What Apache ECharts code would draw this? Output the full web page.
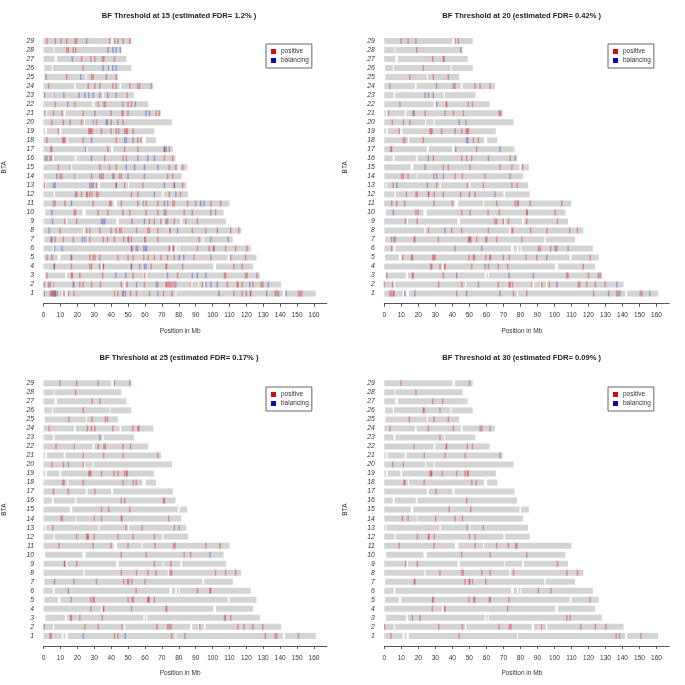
<!DOCTYPE html>
<html><head><meta charset="utf-8">
<style>html,body{margin:0;padding:0;background:#fff}#c{width:685px;height:685px;filter:blur(0.4px)}</style>
<script src="https://cdn.jsdelivr.net/npm/echarts@6/dist/echarts.min.js"></script>
</head><body><div id="c"></div>
<script>
const categories = ['1','2','3','4','5','6','7','8','9','10','11','12','13','14','15','16','17','18','19','20','21','22','23','24','25','26','27','28','29'];
const tickValues = [0,10,20,30,40,50,60,70,80,90,100,110,120,130,140,150,160];
const titles = ['BF Threshold at 15 (estimated FDR= 1.2% )','BF Threshold at 20 (estimated FDR= 0.42% )','BF Threshold at 25 (estimated FDR= 0.17% )','BF Threshold at 30 (estimated FDR= 0.09% )'];
// chromosome lengths (Mb), row 1 to row 29
const chromEnd = [161,140.6,128,124,126,122.6,112,117,108,106.5,110,85.5,84.5,81.5,85,78,76.5,66.5,65.5,76,69.5,62,53.5,65,44,52,49,46,52];
const chromStart = [0,0,1,0,0.5,0,0.5,0,0,1,0,0,0,0,0,0,0,0,0,0,0,0,0,0,0.7,0.5,0,0,0];
// unmapped gaps (Mb)
const chromGaps = [
[[10.8,11.8],[13,14.4],[78,78.6],[141.6,142.8]],
[[5.6,6.2],[47.5,48.2],[86.7,88],[91.5,92],[95,95.8]],
[[12.8,13.8],[59,59.9],[60.8,61.4]],
[[34,35],[100.5,102]],
[[8.5,10],[109,110]],
[[5.5,6.5],[74.5,76],[78,78.8],[80,80.6]],
[[94,94.8]],
[[23.5,24.2],[73.5,74.3]],
[[13.2,14],[43,44.5],[70.5,71],[81,82]],
[[23,25]],
[[41.5,43.5],[58,58.6]],
[[6,6.8],[70,71]],
[[0.8,1.4],[32.5,33.2],[50,50.6]],
[[19,19.5]],
[[15.5,17],[79.5,80.5]],
[[5,6],[18.5,19.5]],
[[25,26],[40,41.2]],
[[58.5,60.5],[14,14.6]],
[[1,2],[9.5,10.5]],
[[24,24.6],[29,29.6]],
[[1,2],[12,13]],
[[29,30]],
[[5.5,6.5],[35,35.6]],
[[18,19],[45,46]],
[[25,25.6]],
[[5,5.6],[39,39.6]],
[[6.5,8]],
[[6,6.5]],
[[40,41.5]]
];
// selected positions (Mb) per row, row 1 to row 29; repeats are overlapping windows
const positive15 = [
[0.5,4,5,6,7,7,12,14.7,18,42,44,47,51.5,55,62.7,71,76,112.6,117.5,122.4,122.6,137,138,150.8,151.8,152.8],
[0.4,3,6,17.6,21.5,23.5,28.4,33.7,46,49.5,59.7,66.6,72.5,73,74,75,76,77.4,78.3,87,94,108.7,114.6,115,117.5,123.8,128.7,129.7],
[2,16.6,17,21.5,35,53,59.7,79.3,107,107.7,119.5,120.4,126.3],
[6.5,16.6,27.4,28.4,35.3,35.5,52,56.8,63.7,72.5,72.8,82.3,112.6,117.5],
[2,5,16.3,16.7,27.4,29.4,30.4,33.3,44,50,53,59.3,62,65.6,69.5,73.4,77.4,89,99,110.7,119.5],
[52,55.8,74.4,76.8,76.9,91,98,100.4,107.7,113.6,120.4],
[5,6.9,11.8,17.6,27.4,35.3,37.8,42,47.4,50,50.3,52,60,60.2,67.6,92],
[9.8,25.5,27.4,33.3,40,43,45,46,55,61.7,62.7,67.6,74.4,75,88,96,102.8,110.7,115.5],
[12.7,19.6,62.7,65.6,69.5,73.4,77.4,84.2,91],
[18.2,19,32.3,38,47,51,60.7,67.6,72.5,83.2,88,101.8],
[5.9,6.9,12.7,29.4,39.2,40,46,55.8,60.7,67.6,73.4,76.4,77.4,85.2,90,99,104.8],
[19,19.6,22.5,25.5,26,27.4,28.8,31.3,32.3,52,55.8,74.4,81],
[0.6,28.4,31.3,43,48,58.8,77.4,82.3],
[9.8,10.8,18.6,28.4,34.3,35.3,41,45,46,73.4,76.4],
[8.8,33.3,39,43,74.4,78.3,82.3],
[1,3.9,36.2,47,49,71.5,76.4],
[4.9,4.3,38,48,55.8,71.5,74.4],
[2,11.4,12,12.7,23.5,43,55.8,57.7],
[8.8,26.8,27.4,28,28.8,34.3,40,43,44.4,48,49,49.6,53],
[4.9,11.8,15.7,22.5,31.3,40,47],
[1,5.9,10.8,23.5,40,46.4,47,50,66.6,68.5],
[6.9,18.6,32.3,35.8,36.6,47,50,52],
[0.6,49.5],
[3,26.4,30.4,33.3,41,43,51,55.8,56.8,63.7],
[13.7,28.4,29.4,37.2,43],
[23.5],
[22.5,28,30.4,34.9,35.7,42],
[13.7,14.7,17.6,19],
[2,7,10.4,13.7,18.6,19.6,39.2,42,44,47,51]
];
const balancing15 = [
[5,6.3,8,47,48.4,67.6,103.8,120,132,139,143.5],
[4,18,55,67.6,96,99,102.8,122,133],
[42.7,48.6,73.4,88,91,96],
[6.3,33.3,52,59.7,60.7],
[80.3,83],
[6.5,11,52.3,54.8,59.3,60.3,61,74.8,101],
[4.5,23,24.5,99,109.3],
[3.3,79.3],
[5.3,34.3,35.3,36.2,52.3,59.7,72.5],
[4.9,71.5,99],
[16.6,58.8,71.5,93,95],
[65.6,78.3],
[5.9,6.9,27.4,29.4,43,71.5,77.4],
[7.8,33.3,41.7,50,59.7],
[15.7,49,53.9,59.7,67.6],
[2,4.9,28.4,55.8,61.7,65.6],
[24.9,71.5,72.5],
[28.4,48,49,53],
[],
[29.4,37.2,37.8,44],
[30.4,60.7,62.7],
[14.3,54.4],
[6.3,12,21,24.5,26.8,29.4,33.3,38,43],
[],
[1.4,22],
[35.3,38.6,41,43],
[17],
[38.2,41,43,45.4],
[25.5]
];
const positive20 = [
[3.3,4.3,5.3,5.8,42.5,75.9,83.7,123,136.7,137.5,150.4,151.4],
[0,4.9,32,45.5,67,73.3,74,75.3,86.7,92.5,97,114,115,119,124,129.8],
[1.4,16.5,17,34.7,107.3,108,120,125.9,126.9],
[27.3,27.9,32.7,35.3,35.7,51.4,61.2,67,72.5,117],
[10.8,16,16.6,28.4,29.2,29.8,49.8,52.4,53,59.6,62,62.4,70,73.5,83.3,89.6,121],
[41.6,90.6,91.6,97.8,101.4,108],
[6.3,5.9,18,17.6,31.8,49.4,50,50.4,50.8,54.3,59.6,60.2,66,80.8],
[26,39.6,45.5,61.2,74.9,75.5,86,95.5,109,113.5],
[12.5,19.4,65,66,70,73,83.7,101.8],
[18.6,20,45.5,50.4,61,67.6,83.7,83.9,100.4],
[4.3,7.3,12,29.2,40,66,76.9,78.2,78.8,85.7,104.3],
[13,18.6,19.4,25.9,26.2,29.4,34.7,44.9,53.3],
[5.3,30.8,48.8,58.2,75,78],
[10.2,11.2,14,30.8,41.6,45.9,59.2],
[34.7,37.6,50.4,68,75,81.2],
[28.8,45.5,48.4,51.4,74,76.9],
[3.7,4.3,54.3],
[11.2,12.2,23,52.4,55.3],
[8.8,26.9,27.5,28.1,33.7,41.6,45.5,48,48.8,49.4],
[4.7,11.2,15.1],
[2.4,17.5,24,35.7,40.6,46.5,67.6,68.4],
[9.2,36.3,36.7,49.4,51.8],
[],
[3.3,30.8,40.6,41.6,53.3,56.3,62.2],
[15,28.8,37.6],
[23],
[28.4,34.7,35.1],
[19],
[9.8,14,18.6,41.6,43.5]
];
const balancing20 = [
[12,18,48.4,68,131.8,138.6,156],
[55.3,101.4,136.7],
[42.5,73.3,87.6],
[59.2],
[95.5],
[4.3,57.3,100.4],
[4.3],
[35.7],
[],
[5.3],
[],
[50,65],
[7.3,25.3],
[29.2,34.7,74],
[24],
[25.9,61.2],
[42,68],
[48.4,49],
[],
[44,48],
[17],
[30.8],
[24,26,28.8],
[],[],[],[],
[44.9],
[]
];
const positive25 = [
[3.9,4.5,42,44,75.8,83.6,131.2,137,138,150.8],
[0.4,24.5,32.3,46.4,67,73.4,74.4,75.4,92.4,115,118.5,123.8,129.7],
[16,16.6,21.5,34.7,107,107.7,110.7],
[28,35.3,35.7,52,72.5,72.9],
[16.3,28,29.4,30,50,52.5,53.1,61.7,62.1,62.5,65.6],
[54.8,91,98.3,98.9],
[6.5,18,31.3,47.4,49.6,50.4,52.3,60.1],
[46,55,61.7,66.6,74.8,75.8,101.8,107.7,113.6],
[12.3,12.7,19.6,65.6,75.4],
[46,60.7,83.2,87],
[9.2,29.4,40,50,66,77,77.8,96,104.4],
[19.6,25.5,26.1,26.5,30,44,52.9,65.6],
[5.5,48.6,58.4,77.4,80.3],
[10.4,11.2,30,34.3,46,46.4,74],
[34.3,38.6,51],
[46,48,71,71.5],
[5.9,14.7,30.4],
[11.4,12.2,23.5,47,53,54.8],
[26.8,27.4,28,34.3,41.7,44,48,49,49.6],
[4.9,11.8,14.7,23.5],
[23.5,35.6,47,67.6],
[7.4,18.2,32.3,35.8,36.6,47,51.5],
[],
[3.3,26,28.4,30.4,41,52.9,55.8,56.4],
[15,28.8,36.6,37.8],
[23.5],
[28.8,33.3],
[19],
[9.8,19.6,32.3,42,51]
];
const balancing25 = [
[23.5,48.4],[],[],[],[],[14.7],[],[],[],[98.5],[],[],[],[],[],[],[],[],[],[],[],[],[33.3],[],[],[],[],[],[]
];
const positive30 = [
[3.9,44,136.3,138.2,150.8],
[0.2,32,45.9,67.5,73.5,74.5,92.2,115.5,124,130.2],
[16.5,21,107.3,109.2],
[28.2,35.3,35.7,72.5],
[28.4,28.8,49.8,52.7,53.1,61.8,62.2,73.3,121],
[90.6,98],
[17.6,18,47.5,49.8,50.2,51.8,59.6],
[32.7,45.5,46.5,57.3,62.2,75.9,107.3,113.5],
[12.5,19.4,101.8],
[45.5,62.2,83.7],
[8.8,29.2,53.3,66,72.9,77.3,77.9],
[19.4,25.9,26.3,29.4,50,53.3],
[48.8,58.2],
[10.6,14,30.2,41.6,45.9],
[38.2,50.8],
[48.4],
[30.4],
[11.6,12.2,23.4,51.4,54],
[26.9,27.5,27.9,34,42.5,47.5,48.8,49.4],
[4.9,11.2],
[23.5,35.7,47.5,68],
[17.5,36.3,36.7,48.8,51.8],
[32.7],
[3.3,25.9,40.6,56.3,57.3,62.2],
[14.7,29.2,37.6],
[23,23.4,32.7],
[28.4,34.3],
[18.6],
[9.8,50]
];
const balancing30 = [[],[],[],[],[],[],[],[],[],[],[],[],[],[],[],[],[],[],[],[],[],[],[],[],[],[],[],[],[]];

const FONT = '"Liberation Sans", Arial, sans-serif';
const RED = '#e0000c', BLUE = '#1010d0';
const panels = [
 {left:41.7, top:36.5, titleX:179, titleY:11.5, legendX:266, legendY:44, pos:positive15, bal:balancing15},
 {left:384.3,top:36.5, titleX:521.7,titleY:11.5, legendX:608, legendY:44, pos:positive20, bal:balancing20},
 {left:41.7, top:378.8,titleX:179, titleY:353.5, legendX:266, legendY:387, pos:positive25, bal:balancing25},
 {left:384.3,top:378.8,titleX:521.7,titleY:353.5, legendX:608, legendY:387, pos:positive30, bal:balancing30}
];
function buildSegments(){
  const out=[];
  chromEnd.forEach((end,row)=>{
    let s=chromStart[row];
    chromGaps[row].slice().sort((a,b)=>a[0]-b[0]).forEach(g=>{out.push([s,g[0],row]);s=g[1];});
    out.push([s,end,row]);
  });
  return out;
}
function rowsToPoints(rows){
  const out=[];
  rows.forEach((r,row)=>r.forEach(p=>out.push([p,row])));
  return out;
}
function renderSegment(params,api){
  const a=api.coord([api.value(0),api.value(2)]);
  const b=api.coord([api.value(1),api.value(2)]);
  return {type:'rect',shape:{x:a[0],y:a[1]-3,width:b[0]-a[0],height:6},style:{fill:'#d4d4d4'},silent:true};
}
function markRender(color,alpha){
  return function(params,api){
    const a=api.coord([api.value(0),api.value(1)]);
    return {type:'rect',shape:{x:a[0]-0.7,y:a[1]-3,width:1.4,height:6},style:{fill:color,opacity:alpha},silent:true};
  };
}
const option={animation:false,backgroundColor:'#fff',title:[],legend:[],grid:[],xAxis:[],yAxis:[],series:[]};
panels.forEach((p,i)=>{
  option.title.push({text:titles[i],left:p.titleX,top:p.titleY,textAlign:'center',padding:0,
    textStyle:{fontFamily:FONT,fontSize:7.6,fontWeight:'bold',color:'#222'}});
  option.legend.push({data:['positive','balancing'],orient:'vertical',left:p.legendX,top:p.legendY,
    itemWidth:5,itemHeight:5,itemGap:2,icon:'rect',selectedMode:false,padding:[4,3,4,5],
    borderColor:'#666',borderWidth:1,textStyle:{fontFamily:FONT,fontSize:6.5,color:'#333',padding:[0,0,0,0]},itemStyle:{borderWidth:0}});
  option.grid.push({left:p.left,top:p.top,width:285,height:261.6,containLabel:false});
  option.xAxis.push({type:'value',gridIndex:i,min:0,max:167.5,offset:5.5,position:'bottom',
    axisLine:{show:true,onZero:false,lineStyle:{color:'#555',width:1}},splitLine:{show:false},
    axisTick:{show:true,length:3,customValues:tickValues,lineStyle:{color:'#555',width:1}},
    axisLabel:{customValues:tickValues,margin:8.5,fontFamily:FONT,fontSize:6.5,color:'#333',showMinLabel:true,showMaxLabel:true},
    name:'Position in Mb',nameLocation:'middle',nameGap:24,
    nameTextStyle:{fontFamily:FONT,fontSize:6.5,color:'#333',padding:[0,10,0,0]}});
  option.yAxis.push({type:'category',gridIndex:i,data:categories,axisLine:{show:false},axisTick:{show:false},splitLine:{show:false},
    axisLabel:{interval:0,margin:9.5,fontFamily:FONT,fontStyle:'italic',fontSize:6.8,color:'#333'},
    name:'BTA',nameLocation:'middle',nameRotate:90,nameGap:35.5,
    nameTextStyle:{fontFamily:FONT,fontSize:6.5,color:'#333'}});
  option.series.push({type:'custom',name:'chromosome',xAxisIndex:i,yAxisIndex:i,data:buildSegments(),renderItem:renderSegment,encode:{x:[0,1],y:2},silent:true,clip:false});
  option.series.push({type:'custom',name:'positive',xAxisIndex:i,yAxisIndex:i,data:rowsToPoints(p.pos),renderItem:markRender(RED,0.36),encode:{x:0,y:1},itemStyle:{color:'#c81010'},silent:true,clip:false});
  option.series.push({type:'custom',name:'balancing',xAxisIndex:i,yAxisIndex:i,data:rowsToPoints(p.bal),renderItem:markRender(BLUE,0.32),encode:{x:0,y:1},itemStyle:{color:'#0808b8'},silent:true,clip:false});
});
echarts.init(document.getElementById('c'),null,{renderer:'canvas'}).setOption(option);
</script>
</body></html>
